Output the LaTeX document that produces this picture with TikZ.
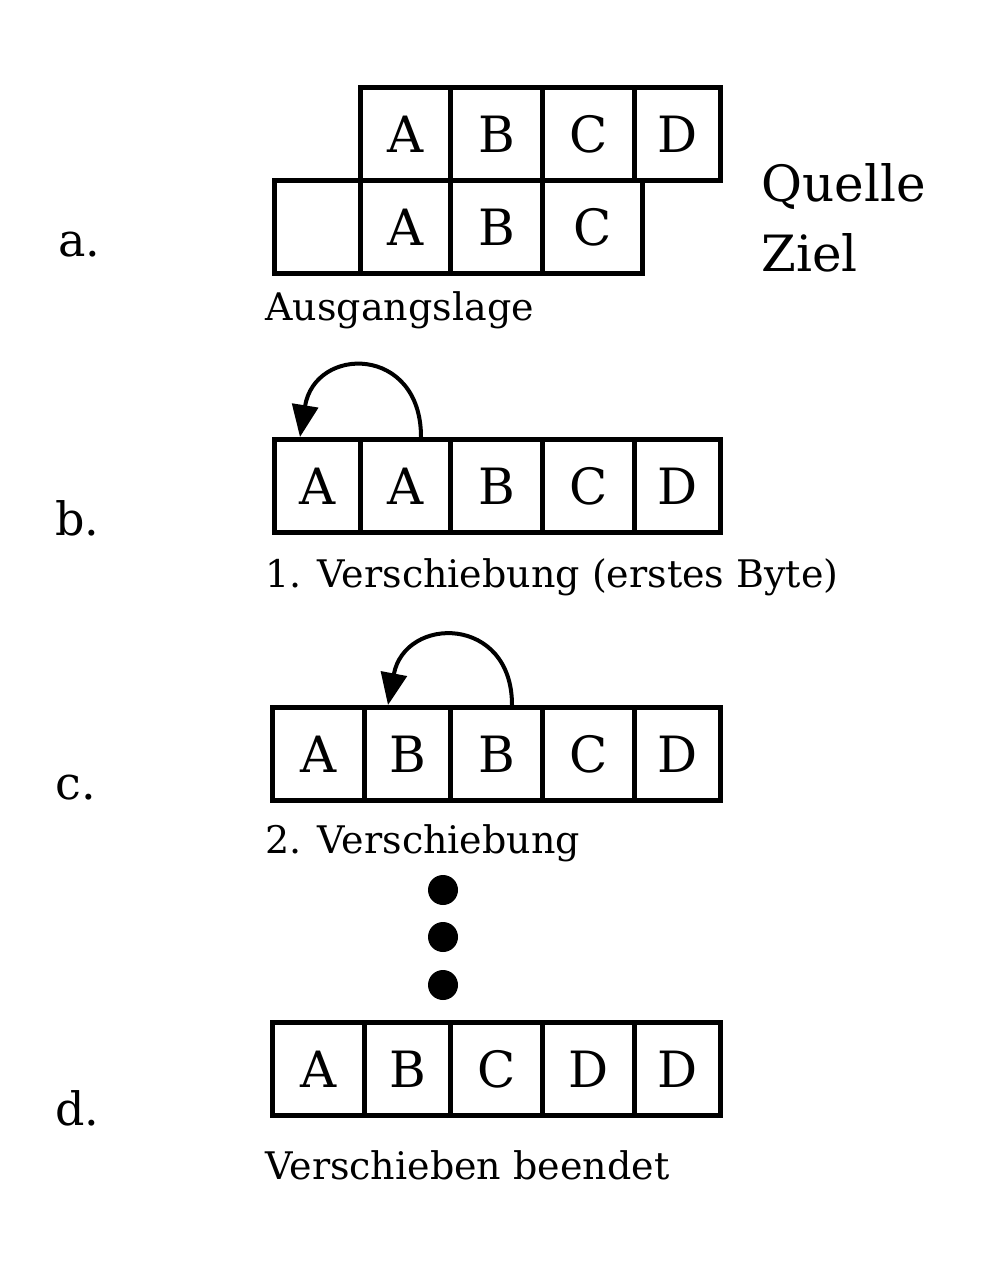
\documentclass[tikz,border=0pt]{standalone}
\usepackage{fontspec}
\setmainfont{DejaVu Serif}
\usetikzlibrary{arrows.meta}
\begin{document}
\begin{tikzpicture}[x=1pt,y=-1pt,
  cell/.style={draw,line width=5pt,minimum height=93pt,anchor=north west,inner sep=0pt,font=\fontsize{50}{50}\selectfont},
  lab/.style={anchor=west,font=\fontsize{38}{38}\selectfont},
  side/.style={anchor=west,font=\fontsize{46}{46}\selectfont},
  arc/.style={line width=4pt,-{Triangle[length=32pt,width=26pt]}}]
\useasboundingbox (0,0) rectangle (988,1268);
% a
\node[cell,minimum width=90pt] (a1) at (358,85) {A};
\node[cell,minimum width=92pt] (a2) at (448,85) {B};
\node[cell,minimum width=92pt] (a3) at (540,85) {C};
\node[cell,minimum width=86pt] (a4) at (632,85) {D};
\node[cell,minimum width=86pt] (z0) at (272,178) {};
\node[cell,minimum width=90pt] (z1) at (358,178) {A};
\node[cell,minimum width=92pt] (z2) at (448,178) {B};
\node[cell,minimum width=100pt] (z3) at (540,178) {C};
\node[anchor=west,font=\fontsize{50}{50}\selectfont] (q) at (758,187) {Quelle};
\node[anchor=west,font=\fontsize{50}{50}\selectfont] (zl) at (758,253) {Ziel};
\node[side] (la) at (55,245) {a.};
\node[lab] (ta) at (262,310) {Ausgangslage};
% b
\node[cell,minimum width=86pt] (b1) at (272,437) {A};
\node[cell,minimum width=90pt] (b2) at (358,437) {A};
\node[cell,minimum width=92pt] (b3) at (448,437) {B};
\node[cell,minimum width=92pt] (b4) at (540,437) {C};
\node[cell,minimum width=86pt] (b5) at (632,437) {D};
\coordinate (bs) at (421,437);
\coordinate (be) at (300,437);
\draw[arc] (bs) .. controls (421,345) and (315,345) .. (be);
\node[side] (lb) at (52,518) {b.};
\node[lab] (tb) at (262,577) {1. Verschiebung (erstes Byte)};
% c
\node[cell,minimum width=92pt] (c1) at (270,705) {A};
\node[cell,minimum width=86pt] (c2) at (362,705) {B};
\node[cell,minimum width=92pt] (c3) at (448,705) {B};
\node[cell,minimum width=92pt] (c4) at (540,705) {C};
\node[cell,minimum width=86pt] (c5) at (632,705) {D};
\coordinate (cs) at (512,705);
\coordinate (ce) at (388,705);
\draw[arc] (cs) .. controls (512,615) and (405,615) .. (ce);
\node[side] (lc) at (52,788) {c.};
\node[lab] (tc) at (262,843) {2. Verschiebung};
% dots
\fill (443,890) circle (15pt);
\fill (443,937) circle (15pt);
\fill (443,985) circle (15pt);
% d
\node[cell,minimum width=92pt] (d1) at (270,1020) {A};
\node[cell,minimum width=86pt] (d2) at (362,1020) {B};
\node[cell,minimum width=92pt] (d3) at (448,1020) {C};
\node[cell,minimum width=92pt] (d4) at (540,1020) {D};
\node[cell,minimum width=86pt] (d5) at (632,1020) {D};
\node[side] (ld) at (52,1108) {d.};
\node[lab] (td) at (262,1165) {Verschieben beendet};
\end{tikzpicture}
\end{document}
